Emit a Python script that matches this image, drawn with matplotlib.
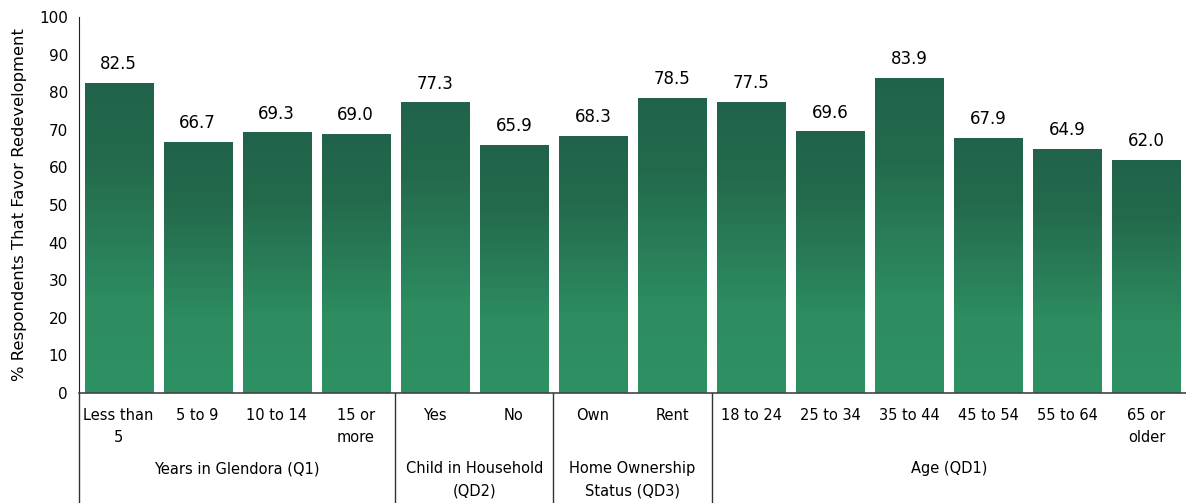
import matplotlib.pyplot as plt
import matplotlib.transforms as mtransforms
from matplotlib.colors import LinearSegmentedColormap
import numpy as np

categories = ["Less than\n5", "5 to 9", "10 to 14", "15 or\nmore",
              "Yes", "No", "Own", "Rent",
              "18 to 24", "25 to 34", "35 to 44", "45 to 54", "55 to 64", "65 or\nolder"]
values = [82.5, 66.7, 69.3, 69.0, 77.3, 65.9, 68.3, 78.5,
          77.5, 69.6, 83.9, 67.9, 64.9, 62.0]
groups = ["Years in Glendora (Q1)", "Child in Household\n(QD2)",
          "Home Ownership\nStatus (QD3)", "Age (QD1)"]
group_sizes = [4, 2, 2, 6]

fig = plt.figure(figsize=(11.86, 5.03), dpi=100, facecolor='white')
ax = fig.add_axes([0.0666, 0.2187, 0.9334, 0.7475])

x = np.arange(len(values))
bars = ax.bar(x, values, width=0.86, color='none', edgecolor='none', zorder=2)

# vertical gradient inside each bar: dark at top, lighter toward the base
cmap = LinearSegmentedColormap.from_list(
    "grn", [(0.0, "#2e9163"), (0.3, "#2d8c60"), (0.75, "#236a4c"), (1.0, "#21634a")])
grad = np.linspace(0, 1, 256).reshape(-1, 1)
for b in bars:
    x0, w, h = b.get_x(), b.get_width(), b.get_height()
    im = ax.imshow(grad, cmap=cmap, origin='lower', aspect='auto',
                   extent=(x0, x0 + w, 0, h), zorder=2)
    im.set_clip_path(b)
    ax.annotate(f"{h:.1f}", (x0 + w / 2, h), xytext=(0, 7), textcoords='offset points',
                ha='center', va='bottom', fontsize=12)

ax.set_xlim(-0.5, len(values) - 0.5)
ax.set_ylim(0, 100)
ax.set_yticks(np.arange(0, 101, 10))
ax.tick_params(axis='y', length=0, labelsize=11, pad=8)
ax.set_xticks(x)
ax.set_xticklabels(categories, fontsize=10.5, linespacing=1.6)
ax.tick_params(axis='x', length=0, pad=11)
ax.set_ylabel("% Respondents That Favor Redevelopment", fontsize=11.8, labelpad=9)

for s in ['top', 'right']:
    ax.spines[s].set_visible(False)
ax.spines['left'].set_color('#222222')
ax.spines['bottom'].set_color('#444444')
ax.spines['bottom'].set_linewidth(1.2)

# group separators and group labels below the axis
trans = mtransforms.blended_transform_factory(ax.transData, ax.transAxes)
depth = -0.2926
start = -0.5
for name, n in zip(groups, group_sizes):
    ax.plot([start, start], [0, depth], transform=trans, color='#333333',
            lw=1, clip_on=False)
    ax.text(start + n / 2, -0.181, name, transform=trans, ha='center', va='top',
            fontsize=10.5, linespacing=1.6)
    start += n

fig.savefig("out.png", dpi=100)
